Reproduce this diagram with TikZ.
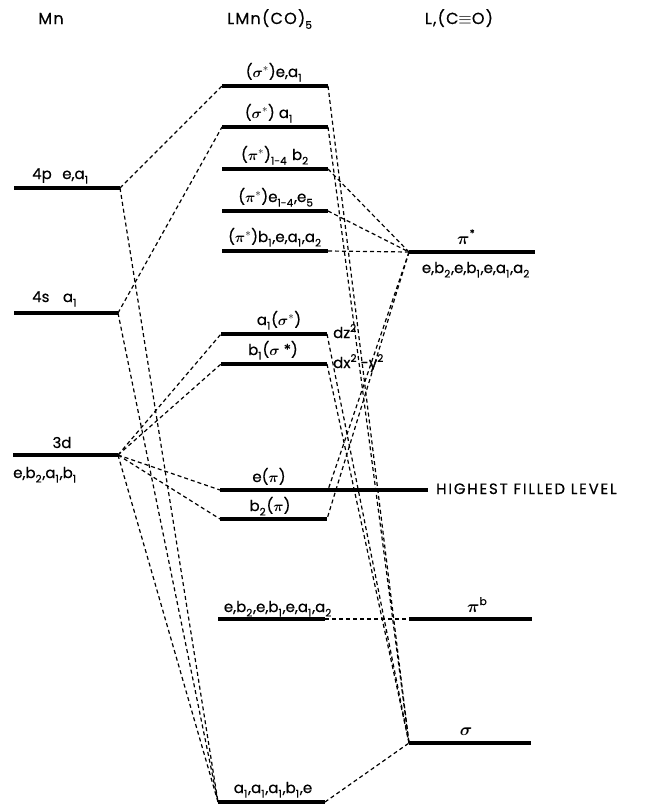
\documentclass[tikz,border=0pt]{standalone}
\usepackage{amsmath}
\usepackage{fontspec}
\setmainfont{Poppins}[FakeBold=0.5]
\newcommand\lo[1]{\raisebox{-0.55ex}{\fontsize{10.5}{10.5}\selectfont #1}\kern0.8pt}
\newcommand\hi[1]{\raisebox{0.75ex}{\fontsize{10.5}{10.5}\selectfont #1}}
\begin{document}
\begin{tikzpicture}[x=1pt,y=-1pt,
  lvl/.style={line width=3.2pt},
  conn/.style={line width=1.2pt, dash pattern=on 4pt off 3pt},
  lab/.style={anchor=base, inner sep=0pt, font=\fontsize{15}{17}\selectfont},
  labw/.style={anchor=base west, inner sep=0pt, font=\fontsize{15}{17}\selectfont},
  head/.style={anchor=base, inner sep=0pt, font=\fontsize{16}{18}\selectfont\addfontfeature{LetterSpace=8}}]
\useasboundingbox (0,0) rectangle (645,804);

% headings
\node[head] (hMn) at (51,24) {Mn};
\node[head] (hLMn) at (270,24) {LMn(CO)\lo{5}};
\node[head] (hL) at (459,24) {L,(C$\equiv$O)};

% Mn levels
\coordinate (p4L) at (14,188); \coordinate (p4R) at (120,188);
\coordinate (s4L) at (14,313); \coordinate (s4R) at (118,313);
\coordinate (d3L) at (13,455); \coordinate (d3R) at (118,455);
\draw[lvl] (p4L) -- (p4R);
\draw[lvl] (s4L) -- (s4R);
\draw[lvl] (d3L) -- (d3R);
\node[labw] (t4p) at (32,179) {4p\hspace{0.7em}e,a\lo{1}};
\node[labw] (t4s) at (32,302) {4s\hspace{0.9em}a\lo{1}};
\node[lab] (t3d) at (62,448) {3d};
\node[labw] (t3dsym) at (13,478) {e,b\lo{2},a\lo{1},b\lo{1}};

% LMn(CO)5 levels
\coordinate (m1L) at (222,86);  \coordinate (m1R) at (328,86);
\coordinate (m2L) at (222,127); \coordinate (m2R) at (328,127);
\coordinate (m3L) at (222,169); \coordinate (m3R) at (328,169);
\coordinate (m4L) at (222,211); \coordinate (m4R) at (328,211);
\coordinate (m5L) at (222,251); \coordinate (m5R) at (328,251);
\coordinate (m6L) at (221,334); \coordinate (m6R) at (327,334);
\coordinate (m7L) at (221,364); \coordinate (m7R) at (327,364);
\coordinate (m8L) at (220,490); \coordinate (m8R) at (428,490); \coordinate (m8c) at (328,490);
\coordinate (m9L) at (220,519); \coordinate (m9R) at (327,519);
\coordinate (m10L) at (218,619); \coordinate (m10R) at (325,619);
\coordinate (m11L) at (218,802); \coordinate (m11R) at (325,802);
\foreach \n in {1,...,11} {\draw[lvl] (m\n L) -- (m\n R);}

\node[lab] (tm1) at (274,77) {($\boldsymbol{\sigma}^*$)e,a\lo{1}};
\node[lab] (tm2) at (269,118) {($\boldsymbol{\sigma}^*$) a\lo{1}};
\node[lab] (tm3) at (275,160) {($\boldsymbol{\pi}^*$)\lo{1-4}\hspace{0.3em}b\lo{2}};
\node[lab] (tm4) at (276,202) {($\boldsymbol{\pi}^*$)e\lo{1-4},e\lo{5}};
\node[lab] (tm5) at (275,242) {($\boldsymbol{\pi}^*$)b\lo{1},e,a\lo{1},a\lo{2}};
\node[lab] (tm6) at (279,325) {a\lo{1}($\boldsymbol{\sigma}^*$)};
\node[lab] (tm7) at (273,355) {b\lo{1}($\boldsymbol{\sigma}$ *)};
\node[labw] (tdz) at (333,338) {dz\hi{2}};
\node[labw] (tdx) at (333,368) {dx\hi{2} -y\hi{2}};
\node[lab] (tm8) at (269,482) {e($\boldsymbol{\pi}$)};
\node[lab] (tm9) at (270,511) {b\lo{2}($\boldsymbol{\pi}$)};
\node[labw] (thf) at (436,494) {\addfontfeature{LetterSpace=12}HIGHEST FILLED LEVEL};
\node[lab] (tm10) at (278,612) {e,b\lo{2},e,b\lo{1},e,a\lo{1},a\lo{2}};
\node[lab] (tm11) at (273,793) {a\lo{1},a\lo{1},a\lo{1} ,b\lo{1},e};

% L (CO) levels
\coordinate (psL) at (409,252); \coordinate (psR) at (535,252);
\coordinate (pbL) at (409,619); \coordinate (pbR) at (532,619);
\coordinate (sgL) at (409,743); \coordinate (sgR) at (531,743);
\draw[lvl] (psL) -- (psR);
\draw[lvl] (pbL) -- (pbR);
\draw[lvl] (sgL) -- (sgR);
\node[lab] (tps) at (466,244) {\fontsize{17}{17}\selectfont$\boldsymbol{\pi}$\hi{*}};
\node[lab] (tpssym) at (476,273) {e,b\lo{2},e,b\lo{1},e,a\lo{1},a\lo{2}};
\node[lab] (tpb) at (477,612) {\fontsize{17}{17}\selectfont$\boldsymbol{\pi}$\hi{b}};
\node[lab] (tsg) at (466,735) {\fontsize{17}{17}\selectfont$\boldsymbol{\sigma}$};

% connectors Mn -> complex
\draw[conn] (p4R) -- (m1L);
\draw[conn] (p4R) -- (m11L);
\draw[conn] (s4R) -- (m2L);
\draw[conn] (s4R) -- (m11L);
\draw[conn] (d3R) -- (m6L);
\draw[conn] (d3R) -- (m7L);
\draw[conn] (d3R) -- (m8L);
\draw[conn] (d3R) -- (m9L);
\draw[conn] (d3R) -- (m11L);

% connectors complex -> ligands
\draw[conn] (m1R) -- (sgL);
\draw[conn] (m2R) -- (sgL);
\draw[conn] (m6R) -- (sgL);
\draw[conn] (m7R) -- (sgL);
\draw[conn] (m11R) -- (sgL);
\draw[conn] (m3R) -- (psL);
\draw[conn] (m4R) -- (psL);
\draw[conn] (m5R) -- (psL);
\draw[conn] (psL) -- (m8c);
\draw[conn] (psL) -- (m9R);
\draw[conn] (m10R) -- (pbL);
\end{tikzpicture}
\end{document}
